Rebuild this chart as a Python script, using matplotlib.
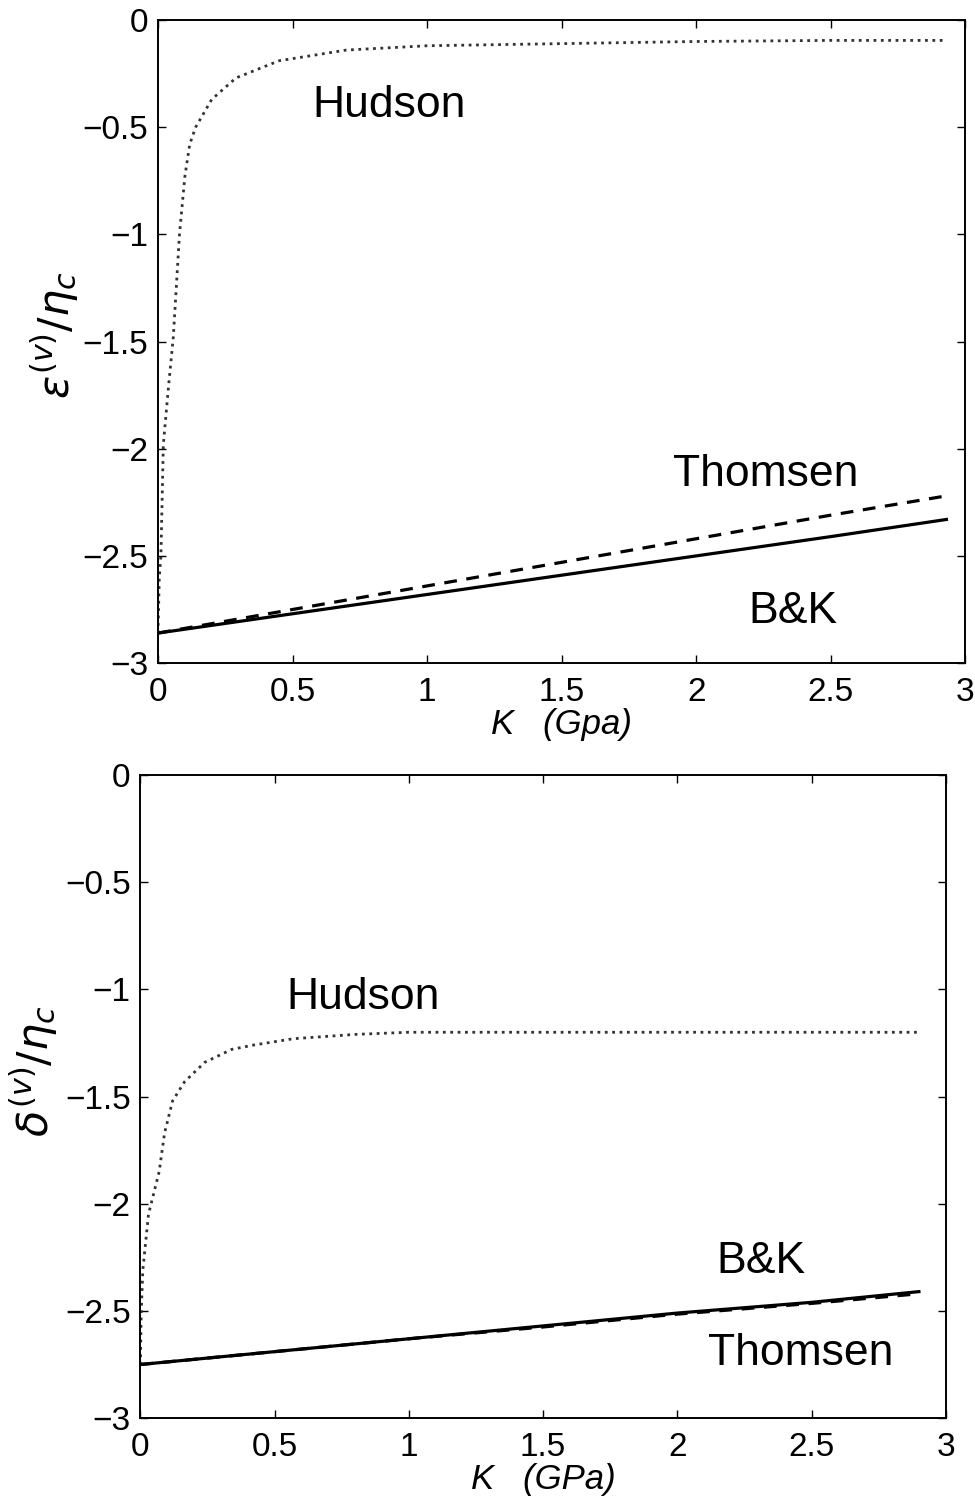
"""
Anisotropy parameters eps(v)/eta_c and delta(v)/eta_c versus fluid bulk modulus K,
comparing Hudson, Thomsen and B&K models.
"""

import matplotlib
matplotlib.use("Agg")
import matplotlib.pyplot as plt

# --- datos panel superior (epsilon) ---
K_hud_eps = [0, 0.005, 0.011, 0.02, 0.04, 0.057, 0.08, 0.10, 0.118, 0.14, 0.20,
             0.29, 0.45, 0.7, 1.0, 1.5, 2.0, 2.5, 2.93]
eps_hudson = [-2.86, -2.6, -2.5, -1.98, -1.7, -1.48, -1.0, -0.73, -0.58, -0.50, -0.37,
              -0.27, -0.19, -0.14, -0.12, -0.11, -0.10, -0.095, -0.095]
K_lin_eps = [0, 0.5, 1.0, 1.5, 2.0, 2.5, 2.93]
eps_bk = [-2.86, -2.77, -2.68, -2.59, -2.50, -2.41, -2.33]
eps_thomsen = [-2.86, -2.75, -2.64, -2.53, -2.42, -2.31, -2.22]

# --- datos panel inferior (delta) ---
K_hud_del = [0, 0.003, 0.009, 0.03, 0.07, 0.09, 0.12, 0.165, 0.24, 0.34, 0.42,
             0.57, 0.8, 1.0, 1.5, 2.0, 2.5, 2.9]
del_hudson = [-2.75, -2.51, -2.31, -2.05, -1.85, -1.67, -1.52, -1.43, -1.34, -1.28, -1.26,
              -1.23, -1.21, -1.2, -1.2, -1.2, -1.2, -1.2]
K_lin_del = [0, 0.5, 1.0, 1.5, 2.0, 2.5, 2.9]
del_bk = [-2.75, -2.69, -2.63, -2.57, -2.51, -2.46, -2.41]
del_thomsen = [-2.75, -2.69, -2.63, -2.575, -2.515, -2.465, -2.42]

x_ticks = [0, 0.5, 1, 1.5, 2, 2.5, 3]
x_ticklabels = ["0", "0.5", "1", "1.5", "2", "2.5", "3"]
y_ticks = [0, -0.5, -1, -1.5, -2, -2.5, -3]
y_ticklabels = ["0", "\u22120.5", "\u22121", "\u22121.5", "\u22122", "\u22122.5", "\u22123"]

plt.rcParams["font.family"] = ["Liberation Sans", "DejaVu Sans"]
plt.rcParams["mathtext.fontset"] = "dejavusans"


def estilo(ax, xlabel, ylabel, ylab_xy):
    ax.set_xlim(0, 3)
    ax.set_ylim(-3, 0)
    ax.set_xticks(x_ticks)
    ax.set_xticklabels(x_ticklabels)
    ax.set_yticks(y_ticks)
    ax.set_yticklabels(y_ticklabels)
    ax.tick_params(direction="in", top=True, right=True, length=6, width=1,
                   labelsize=24, pad=7)
    ax.tick_params(axis="x", pad=10)
    for s in ax.spines.values():
        s.set_linewidth(1.4)
    ax.set_xlabel(xlabel, fontsize=25, style="italic", labelpad=0)
    ax.set_ylabel(ylabel, fontsize=31)
    ax.yaxis.set_label_coords(*ylab_xy)


fig = plt.figure(figsize=(9.75, 15.07), dpi=100)
ax1 = fig.add_axes([0.162, 0.560, 0.828, 0.4267])
ax2 = fig.add_axes([0.144, 0.059, 0.826, 0.4267])

# panel superior
ax1.plot(K_hud_eps, eps_hudson, linestyle=":", color="#333333", linewidth=2.0)
ax1.plot(K_lin_eps, eps_thomsen, linestyle="--", color="black", linewidth=2.3,
         dashes=(4, 3))
ax1.plot(K_lin_eps, eps_bk, linestyle="-", color="black", linewidth=2.3)
ax1.text(0.86, -0.40, "Hudson", fontsize=32, ha="center", va="center")
ax1.text(2.26, -2.12, "Thomsen", fontsize=32, ha="center", va="center")
ax1.text(2.36, -2.76, "B&K", fontsize=32, ha="center", va="center")
estilo(ax1, "K   (Gpa)", r"$\varepsilon^{(v)}/\eta_c$", (-0.095, 0.51))

# panel inferior
ax2.plot(K_hud_del, del_hudson, linestyle=":", color="#333333", linewidth=2.0)
ax2.plot(K_lin_del, del_thomsen, linestyle="--", color="black", linewidth=2.3,
         dashes=(4, 3))
ax2.plot(K_lin_del, del_bk, linestyle="-", color="black", linewidth=2.3)
ax2.text(0.83, -1.04, "Hudson", fontsize=32, ha="center", va="center")
ax2.text(2.31, -2.27, "B&K", fontsize=32, ha="center", va="center")
ax2.text(2.46, -2.70, "Thomsen", fontsize=32, ha="center", va="center")
estilo(ax2, "K   (GPa)", r"$\delta^{(v)}/\eta_c$", (-0.10, 0.54))

fig.savefig("out.png", dpi=100)
